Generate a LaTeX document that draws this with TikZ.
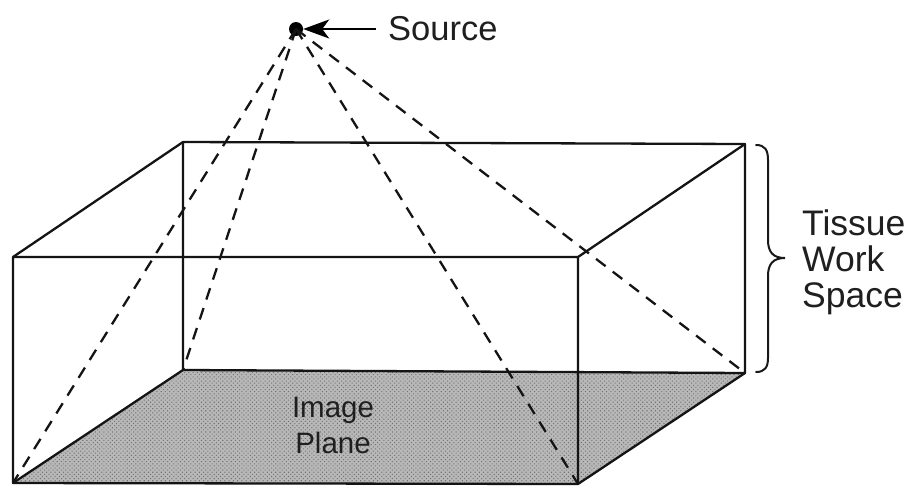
\documentclass[tikz,border=0pt]{standalone}
\usepackage{fontspec}
\setmainfont{Liberation Sans}
\usetikzlibrary{arrows.meta,patterns.meta}
\begin{document}
\begin{tikzpicture}[x=1pt,y=-1pt,
  edge/.style={line width=2.3pt,black!92,line cap=round,line join=round},
  ray/.style={line width=2.3pt,black!92,dash pattern=on 12pt off 9pt},
  lab/.style={font=\fontsize{34.5}{40}\selectfont,text=black!88,inner sep=0pt,anchor=base west},
  labr/.style={font=\fontsize{35.5}{40}\selectfont,text=black!88,inner sep=0pt,anchor=base west},
  labc/.style={font=\fontsize{29.5}{34}\selectfont,text=black!88,inner sep=0pt,anchor=base}]
\useasboundingbox (0,0) rectangle (909,485);
\fill[white] (0,0) rectangle (909,485);
\coordinate (fbl) at (13,483);
\coordinate (fbr) at (578,484);
\coordinate (ftl) at (13,257);
\coordinate (ftr) at (578,257);
\coordinate (bbl) at (183,370);
\coordinate (bbr) at (745,373);
\coordinate (btl) at (183,142);
\coordinate (btr) at (745,144);
\coordinate (arrowstart) at (376,29);
\fill[black!28] (fbl) -- (bbl) -- (bbr) -- (fbr) -- cycle;
\fill[pattern={Dots[distance=3pt,radius=0.75pt,angle=45]},pattern color=black!55] (fbl) -- (bbl) -- (bbr) -- (fbr) -- cycle;
\node[circle,fill=black,inner sep=0pt,minimum size=14pt] (src) at (296,29) {};
\foreach \c in {fbl,bbl,fbr,bbr} \draw[ray] (src.center) -- (\c);
\draw[edge] (ftl) -- (ftr) -- (fbr) -- (fbl) -- cycle;
\draw[edge] (btl) -- (btr) -- (bbr) -- (bbl) -- cycle;
\draw[edge] (ftl) -- (btl) (ftr) -- (btr) (fbl) -- (bbl) (fbr) -- (bbr);
\draw[line width=2.2pt,black,-{Stealth[length=26pt,width=19pt,inset=7pt]}] (arrowstart) -- (src);
\coordinate (bracetop) at (756,145);
\coordinate (bracetip) at (785,258);
\coordinate (bracebot) at (756,372);
\draw[line width=2pt,black!90,line cap=round]
  (bracetop) .. controls (765,145) and (768,150) .. (768,160)
  -- (768,240) .. controls (768,252) and (773,258) .. (bracetip)
  .. controls (773,258) and (768,264) .. (768,276)
  -- (768,358) .. controls (768,367) and (765,372) .. (bracebot);
\node[lab] (source) at (388,40) {Source};
\node[labr] (tissue) at (802,235) {Tissue};
\node[labr] (work) at (802,271) {Work};
\node[labr] (space) at (802,307) {Space};
\node[labc] (image) at (333,417) {Image};
\node[labc] (plane) at (333,453) {Plane};
\end{tikzpicture}
\end{document}
